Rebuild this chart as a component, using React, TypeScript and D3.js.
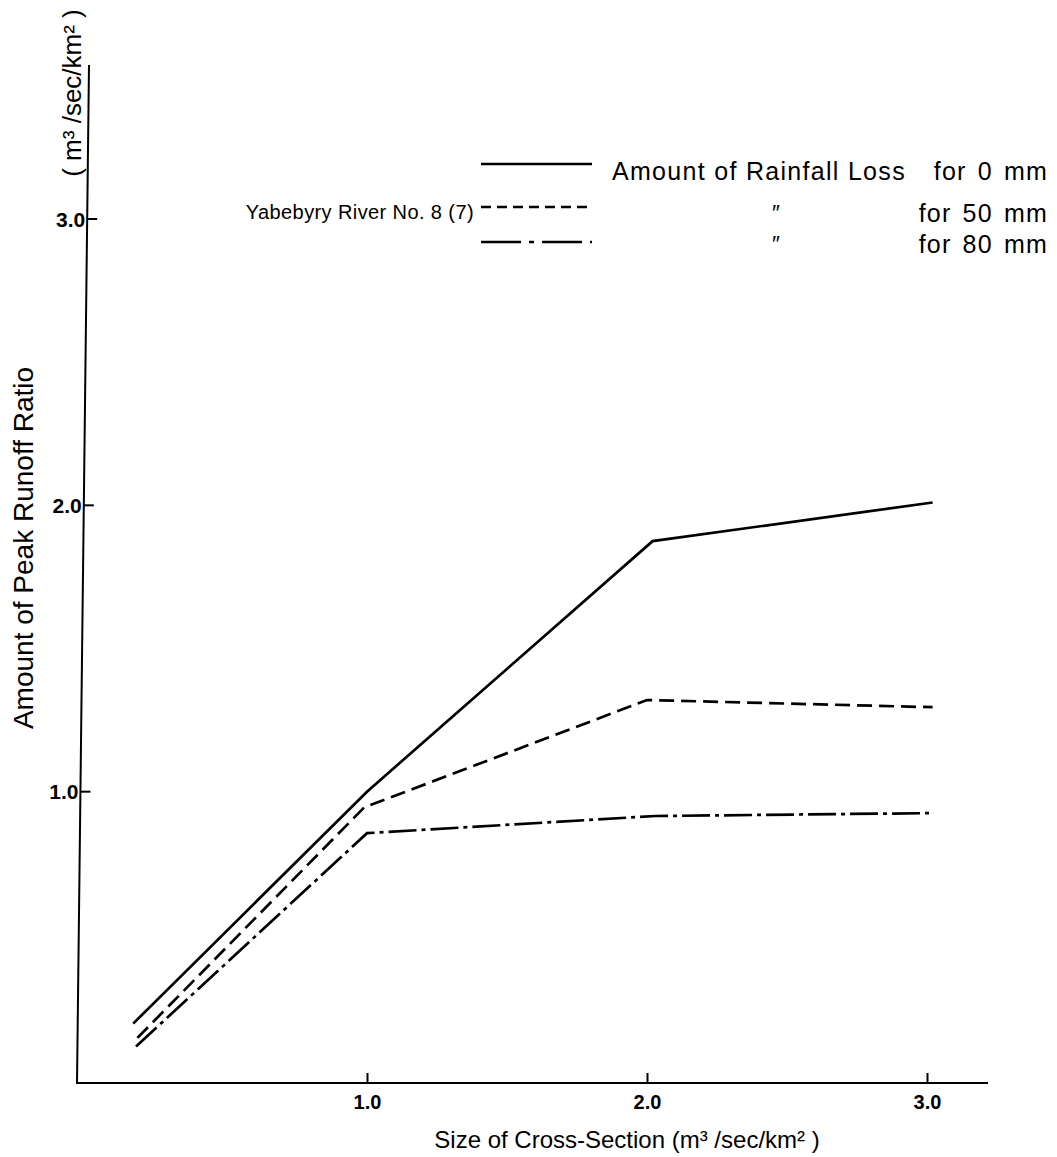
import React, { useEffect, useRef } from "react";
import * as d3 from "d3";

// cross-section size (x) and peak runoff ratio (y) for each rainfall loss
const size0mm = [0.165, 1.0, 2.02, 3.02];
const ratio0mm = [0.19, 1.0, 1.875, 2.01];
const size50mm = [0.18, 0.99, 2.0, 3.02];
const ratio50mm = [0.14, 0.945, 1.32, 1.295];
const size80mm = [0.175, 1.0, 2.03, 3.01];
const ratio80mm = [0.11, 0.855, 0.915, 0.925];

const xTicks = [1.0, 2.0, 3.0];
const yTicks = [1.0, 2.0, 3.0];

const legendLabels = ["for 0 mm", "for 50 mm", "for 80 mm"];
const dashPatterns = [null, "15,7", "28,5,4,5"];
const legendDash = [null, "10,6", "40,8,5,8"];

const FONT = "'Liberation Sans', Arial, Helvetica, sans-serif";

const App = () => {
  const svgRef = useRef<SVGSVGElement>(null);

  useEffect(() => {
    const svg = d3.select(svgRef.current);
    svg.selectAll("*").remove();

    const x = d3.scaleLinear().domain([0, 3]).range([87, 927]);
    const y = d3.scaleLinear().domain([0, 3]).range([1078, 219]);

    const axisY = 1083;
    const axisTop = 65;
    // the scanned y axis leans slightly to the right going up
    const axisXAt = (py: number) => 77 + ((axisY - py) * 12) / (axisY - axisTop);

    // axis lines
    svg
      .append("line")
      .attr("x1", axisXAt(axisY))
      .attr("x2", axisXAt(axisTop))
      .attr("y1", axisY)
      .attr("y2", axisTop)
      .attr("stroke", "#000")
      .attr("stroke-width", 2);
    svg
      .append("line")
      .attr("x1", 76)
      .attr("x2", 988)
      .attr("y1", axisY)
      .attr("y2", axisY)
      .attr("stroke", "#000")
      .attr("stroke-width", 2);

    // y ticks (pointing inward)
    const yt = svg.append("g").selectAll("g").data(yTicks).enter().append("g");
    yt.append("line")
      .attr("x1", (d) => axisXAt(y(d)))
      .attr("x2", (d) => axisXAt(y(d)) + 10)
      .attr("y1", (d) => y(d))
      .attr("y2", (d) => y(d))
      .attr("stroke", "#000")
      .attr("stroke-width", 2);
    yt.append("text")
      .attr("x", (d) => axisXAt(y(d)) - 2)
      .attr("y", (d) => y(d))
      .attr("dy", "0.36em")
      .attr("text-anchor", "end")
      .attr("font-family", FONT)
      .attr("font-size", 21)
      .attr("font-weight", "bold")
      .text((d) => d.toFixed(1));

    // x ticks (pointing up)
    const xAxis = svg
      .append("g")
      .attr("transform", `translate(0,${axisY})`)
      .call(
        d3
          .axisBottom(x)
          .tickValues(xTicks)
          .tickSizeInner(-10)
          .tickSizeOuter(0)
          .tickPadding(12)
          .tickFormat((d) => (d as number).toFixed(1))
      );
    xAxis.select(".domain").remove();
    xAxis.selectAll("line").attr("stroke", "#000").attr("stroke-width", 2);
    xAxis
      .selectAll("text")
      .attr("font-family", FONT)
      .attr("font-size", 20)
      .attr("font-weight", "bold")
      .attr("fill", "#000");

    // data lines
    const series = [
      { xs: size0mm, ys: ratio0mm, dash: dashPatterns[0] },
      { xs: size50mm, ys: ratio50mm, dash: dashPatterns[1] },
      { xs: size80mm, ys: ratio80mm, dash: dashPatterns[2] },
    ];
    const line = d3
      .line<[number, number]>()
      .x((d) => x(d[0]))
      .y((d) => y(d[1]));

    series.forEach((s) => {
      const pts = s.xs.map((v, i) => [v, s.ys[i]] as [number, number]);
      svg
        .append("path")
        .attr("d", line(pts))
        .attr("fill", "none")
        .attr("stroke", "#000")
        .attr("stroke-width", 2.7)
        .attr("stroke-dasharray", s.dash);
    });

    // axis titles
    svg
      .append("text")
      .attr("transform", "translate(33,548) rotate(-90)")
      .attr("text-anchor", "middle")
      .attr("font-family", FONT)
      .attr("font-size", 28)
      .text("Amount of Peak Runoff Ratio");

    svg
      .append("text")
      .attr("transform", "translate(81,93) rotate(-90)")
      .attr("text-anchor", "middle")
      .attr("font-family", FONT)
      .attr("font-size", 26)
      .text("( m³ /sec/km² )");

    svg
      .append("text")
      .attr("x", 627)
      .attr("y", 1148)
      .attr("text-anchor", "middle")
      .attr("font-family", FONT)
      .attr("font-size", 24)
      .text("Size of Cross-Section (m³ /sec/km² )");

    // legend
    const legendY = [164, 207, 242];
    const labelBase = [180, 222, 253];
    legendLabels.forEach((lab, i) => {
      svg
        .append("line")
        .attr("x1", 481)
        .attr("x2", 592)
        .attr("y1", legendY[i])
        .attr("y2", legendY[i])
        .attr("stroke", "#000")
        .attr("stroke-width", 2.7)
        .attr("stroke-dasharray", legendDash[i]);
      svg
        .append("text")
        .attr("x", 1048)
        .attr("y", labelBase[i])
        .attr("text-anchor", "end")
        .attr("font-family", FONT)
        .attr("font-size", 25)
        .attr("letter-spacing", 1.2)
        .attr("word-spacing", 3)
        .text(lab);
      if (i > 0) {
        svg
          .append("text")
          .attr("x", 775)
          .attr("y", labelBase[i] - 2)
          .attr("text-anchor", "middle")
          .attr("font-family", FONT)
          .attr("font-style", "italic")
          .attr("font-size", 22)
          .text("\u2033");
      }
    });
    svg
      .append("text")
      .attr("x", 612)
      .attr("y", labelBase[0])
      .attr("font-family", FONT)
      .attr("font-size", 25)
      .attr("letter-spacing", 1.3)
      .text("Amount of Rainfall Loss");
    svg
      .append("text")
      .attr("x", 474)
      .attr("y", 219)
      .attr("text-anchor", "end")
      .attr("font-family", FONT)
      .attr("font-size", 20)
      .attr("letter-spacing", 0.4)
      .text("Yabebyry River No. 8 (7)");
  }, []);

  return (
    <svg
      ref={svgRef}
      width={1057}
      height={1157}
      style={{ position: "absolute", left: 0, top: 0, background: "#fff" }}
    />
  );
};

export default App;
